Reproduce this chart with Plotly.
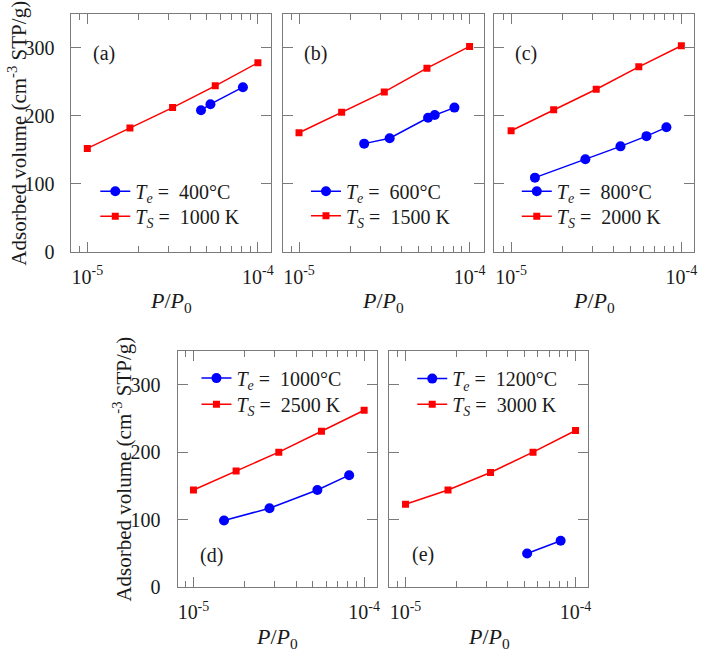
import plotly.graph_objects as go

# ---------------- data ----------------
panel_labels = ["(a)", "(b)", "(c)", "(d)", "(e)"]
te_labels = ["400°C", "600°C", "800°C", "1000°C", "1200°C"]
ts_labels = ["1000 K", "1500 K", "2000 K", "2500 K", "3000 K"]

red_x = [1.0e-5, 1.778e-5, 3.162e-5, 5.623e-5, 1.0e-4]

red_a = [152, 182, 212, 244, 278]
red_b = [175, 205, 235, 270, 302]
red_c = [178, 209, 239, 272, 303]
red_d = [144, 172, 200, 231, 262]
red_e = [123, 144, 170, 200, 232]

blue_x_a = [4.64e-5, 5.27e-5, 8.17e-5]
blue_a = [208, 217, 242]
blue_x_b = [2.41e-5, 3.40e-5, 5.71e-5, 6.25e-5, 8.15e-5]
blue_b = [159, 167, 197, 201, 212]
blue_x_c = [1.38e-5, 2.73e-5, 4.39e-5, 6.24e-5, 8.17e-5]
blue_c = [109, 136, 155, 170, 183]
blue_x_d = [1.51e-5, 2.79e-5, 5.32e-5, 8.17e-5]
blue_d = [99, 117, 144, 166]
blue_x_e = [5.19e-5, 8.17e-5]
blue_e = [50, 69]

y_ticks = [0, 100, 200, 300]
x_ticks = [1e-5, 1e-4]
x_ticktext = ["10<sup>-5</sup>", "10<sup>-4</sup>"]
x_minor = [9e-6, 2e-5, 3e-5, 4e-5, 5e-5, 6e-5, 7e-5, 8e-5, 9e-5]

blue_xs = [blue_x_a, blue_x_b, blue_x_c, blue_x_d, blue_x_e]
blue_ys = [blue_a, blue_b, blue_c, blue_d, blue_e]
red_ys = [red_a, red_b, red_c, red_d, red_e]

# ---------------- layout geometry (pixels) ----------------
W, H = 702, 662
panels = [  # x0, x1, y0(top), y1(bottom), xrange(log)
    (71.7, 271.7, 14, 256, [-5.0934, -3.9259]),
    (284.3, 485.7, 14, 256, [-5.0934, -3.9177]),
    (496.0, 697.3, 14, 256, [-5.1013, -3.9238]),
    (178.3, 378.3, 356.7, 597.3, [-5.0933, -3.9265]),
    (390.7, 591.0, 356.7, 597.3, [-5.0971, -3.9240]),
]
legend_pos = [  # text start px, row1 y, row2 y
    (136.7, 194.5, 220), (348.3, 194.5, 219.5), (560, 194.5, 220),
    (238.3, 384.5, 411), (455, 385, 411)
]
label_pos = [(0.10, 0.835), (0.095, 0.835), (0.095, 0.835), (0.105, 0.134), (0.105, 0.141)]

FONT = "Liberation Serif, Times New Roman, serif"
TXT = "#1a1a1a"
GRID = "#7a7a7a"
BLUE = "#0000ff"
RED = "#ff0000"

fig = go.Figure()
layout = dict(
    width=W, height=H, margin=dict(l=0, r=0, t=0, b=0),
    paper_bgcolor="white", plot_bgcolor="white", showlegend=True,
    font=dict(family=FONT, size=20, color=TXT),
    annotations=[],
)

for i in range(5):
    n = "" if i == 0 else str(i + 1)
    xa, ya = "x" + n, "y" + n
    lg1 = "legend" + ("" if i == 0 else str(2 * i + 1))
    lg2 = "legend" + str(2 * i + 2)
    fig.add_trace(go.Scatter(
        x=blue_xs[i], y=blue_ys[i], mode="lines+markers",
        line=dict(color=BLUE, width=1.5),
        marker=dict(symbol="circle", size=10, color=BLUE),
        name="<i>T</i><sub><i>e</i></sub> =&nbsp; " + te_labels[i],
        xaxis=xa, yaxis=ya, legend=lg1, showlegend=True,
    ))
    fig.add_trace(go.Scatter(
        x=red_x, y=red_ys[i], mode="lines+markers",
        line=dict(color=RED, width=1.5),
        marker=dict(symbol="square", size=7, color=RED),
        name="<i>T</i><sub><i>S</i></sub> =&nbsp; " + ts_labels[i],
        xaxis=xa, yaxis=ya, legend=lg2, showlegend=True,
    ))
    x0, x1, y0, y1, xr = panels[i]
    common = dict(showline=True, linecolor=GRID, linewidth=1, mirror="ticks",
                  ticks="inside", tickcolor=GRID, showgrid=False, zeroline=False,
                  tickfont=dict(family=FONT, size=20, color=TXT))
    layout["xaxis" + n] = dict(
        domain=[x0 / W, x1 / W], anchor=ya, type="log", range=xr,
        tickvals=x_ticks, ticktext=x_ticktext, ticklen=10,
        minor=dict(tickvals=x_minor, ticks="inside", ticklen=6, tickcolor=GRID),
        ticklabelstandoff=7, **common)
    layout["yaxis" + n] = dict(
        domain=[1 - y1 / H, 1 - y0 / H], anchor=xa, range=[0, 350],
        tickvals=y_ticks, ticklen=10, showticklabels=(i in (0, 3)),
        ticklabelstandoff=12, **common)
    tx, r1, r2 = legend_pos[i]
    for lg, ry in ((lg1, r1), (lg2, r2)):
        layout[lg] = dict(x=(tx - 41) / W, y=1 - ry / H, xanchor="left", yanchor="middle",
                          bgcolor="rgba(0,0,0,0)", borderwidth=0, visible=True,
                          font=dict(family=FONT, size=20, color=TXT),
                          itemwidth=30, tracegroupgap=0)
    px, py = label_pos[i]
    layout["annotations"].append(dict(
        text=panel_labels[i], xref=xa + " domain", yref=ya + " domain",
        x=px, y=py, xanchor="left", yanchor="middle", showarrow=False,
        font=dict(family=FONT, size=20, color=TXT)))
    layout["annotations"].append(dict(
        text="<i>P</i>/<i>P</i><sub>0</sub>", xref="paper", yref="paper",
        x=((x0 + x1) / 2) / W, y=1 - (y1 + 51) / H, xanchor="center", yanchor="middle",
        showarrow=False, font=dict(family=FONT, size=22, color=TXT)))

for cx, cy in [(18, 135), (123, 477)]:
    layout["annotations"].append(dict(
        text="Adsorbed volume (cm<sup>-3</sup> STP/g)", xref="paper", yref="paper",
        x=cx / W, y=1 - cy / H, xanchor="center", yanchor="middle", textangle=-90,
        showarrow=False, font=dict(family=FONT, size=21, color=TXT)))

fig.update_layout(**layout)
fig.write_html("out.html")
